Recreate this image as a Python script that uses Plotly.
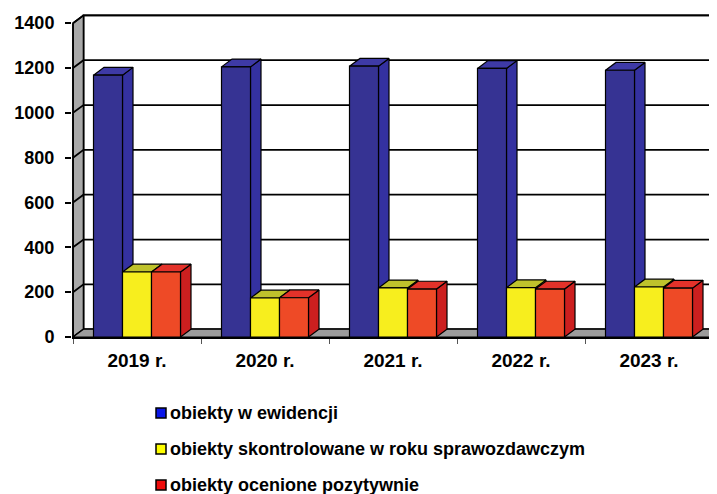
import plotly.graph_objects as go

# ---- data ----
years = ["2019 r.", "2020 r.", "2021 r.", "2022 r.", "2023 r."]
series_names = ["obiekty w ewidencji",
                "obiekty skontrolowane w roku sprawozdawczym",
                "obiekty ocenione pozytywnie"]
ewidencja = [1168, 1205, 1208, 1198, 1190]
skontrolowane = [290, 174, 219, 220, 223]
pozytywne = [290, 175, 214, 214, 218]
y_ticks = [0, 200, 400, 600, 800, 1000, 1200, 1400]

# ---- styling ----
OFF = 8  # page body margin compensation
W, H = 717 - OFF, 494 - OFF
ML, MR, MT, MB = 72 - OFF, 0, 10 - OFF, 157
plot_w = W - ML - MR
plot_h = H - MT - MB
px_per_cat = 128.0
px_per_val = 0.22417
x0r = -0.5 - 1.0 / px_per_cat
x1r = x0r + plot_w / px_per_cat
yr1 = plot_h / px_per_val
DX = 10.5 / px_per_cat          # depth offset (x) in data units
DY = 7.8 / px_per_val           # depth offset (y) in data units
bar_w = 29.0 / px_per_cat

face_cols = [
    dict(front="#363393", top="#3e3aa6", side="#3431a0"),
    dict(front="#f7ee1e", top="#bfc22c", side="#d6cc10"),
    dict(front="#ee4a26", top="#e3322a", side="#cc1f1f"),
]
legend_cols = ["#0a16e8", "#ffff00", "#ee0c0c"]
series_vals = [ewidencja, skontrolowane, pozytywne]
ymax_tick = y_ticks[-1]
n = len(years)
FONT = "Liberation Sans, Arial"

fig = go.Figure()


def poly(xs, ys, fill, lw=1.2, lc="black"):
    fig.add_trace(go.Scatter(x=xs + [xs[0]], y=ys + [ys[0]], mode="lines",
                             fill="toself", fillcolor=fill,
                             line=dict(color=lc, width=lw),
                             hoverinfo="skip", showlegend=False))


def seg(xs, ys, lw=1.8, lc="black"):
    fig.add_trace(go.Scatter(x=xs, y=ys, mode="lines",
                             line=dict(color=lc, width=lw),
                             hoverinfo="skip", showlegend=False))


left = -0.5
right = n - 0.5
# back wall
poly([left + DX, x1r + 1, x1r + 1, left + DX],
     [DY, DY, ymax_tick + DY, ymax_tick + DY], "white", lw=1.8)
# side wall
poly([left, left, left + DX, left + DX],
     [0, ymax_tick, ymax_tick + DY, DY], "#a9a9a9", lw=1.6)
# floor
poly([left, right, right + DX, left + DX], [0, 0, DY, DY], "#9c9c9c", lw=1.2)
# gridlines on back & side walls
for v in y_ticks[1:]:
    seg([left, left + DX, x1r + 1], [v, v + DY, v + DY])

# 3D bars
for i in range(n):
    for s in range(3):
        h = series_vals[s][i]
        xa = i + (s - 1.5) * bar_w
        xb = xa + bar_w
        c = face_cols[s]
        poly([xb, xb + DX, xb + DX, xb], [0, DY, h + DY, h], c["side"])
        poly([xa, xb, xb + DX, xa + DX], [h, h, h + DY, h + DY], c["top"])
        poly([xa, xb, xb, xa], [0, 0, h, h], c["front"])

# front vertical axis line
seg([left, left], [0, ymax_tick], lw=1.6)


# legend (manual), positions given in page pixels
def px2paper_x(px):
    return (px - OFF - ML) / plot_w


def px2paper_y(py):
    return (H - MB - (py - OFF)) / plot_h


legend_rows = [413, 449, 485]
for name, col, yy in zip(series_names, legend_cols, legend_rows):
    fig.add_shape(type="rect", xref="paper", yref="paper",
                  x0=px2paper_x(156), x1=px2paper_x(166),
                  y0=px2paper_y(yy + 5), y1=px2paper_y(yy - 5),
                  fillcolor=col, line=dict(color="black", width=1.5))
    fig.add_annotation(x=px2paper_x(168), y=px2paper_y(yy), xref="paper", yref="paper",
                       text=name, showarrow=False, xanchor="left", yanchor="middle",
                       font=dict(family=FONT, size=18, color="black", weight="bold"))

fig.update_layout(
    width=W, height=H,
    margin=dict(l=ML, r=MR, t=MT, b=MB, autoexpand=False),
    paper_bgcolor="white", plot_bgcolor="white",
    showlegend=False,
    xaxis=dict(range=[x0r, x1r], tickvals=list(range(n)), ticktext=years,
               ticks="", showgrid=False, zeroline=False,
               showline=True, linecolor="black", linewidth=1.6,
               ticklabelstandoff=5,
               tickfont=dict(family=FONT, size=19, color="black", weight="bold"),
               minor=dict(tickvals=[k - 0.5 for k in range(n + 1)],
                          ticks="outside", ticklen=5, tickwidth=1,
                          tickcolor="#555555", showgrid=False)),
    yaxis=dict(range=[0, yr1], tickvals=y_ticks, ticks="outside",
               ticklen=6, tickwidth=1.5, tickcolor="black",
               showgrid=False, zeroline=False, showline=False,
               ticklabelstandoff=7,
               tickfont=dict(family=FONT, size=18, color="black", weight="bold")),
)

fig.write_html("out.html")
